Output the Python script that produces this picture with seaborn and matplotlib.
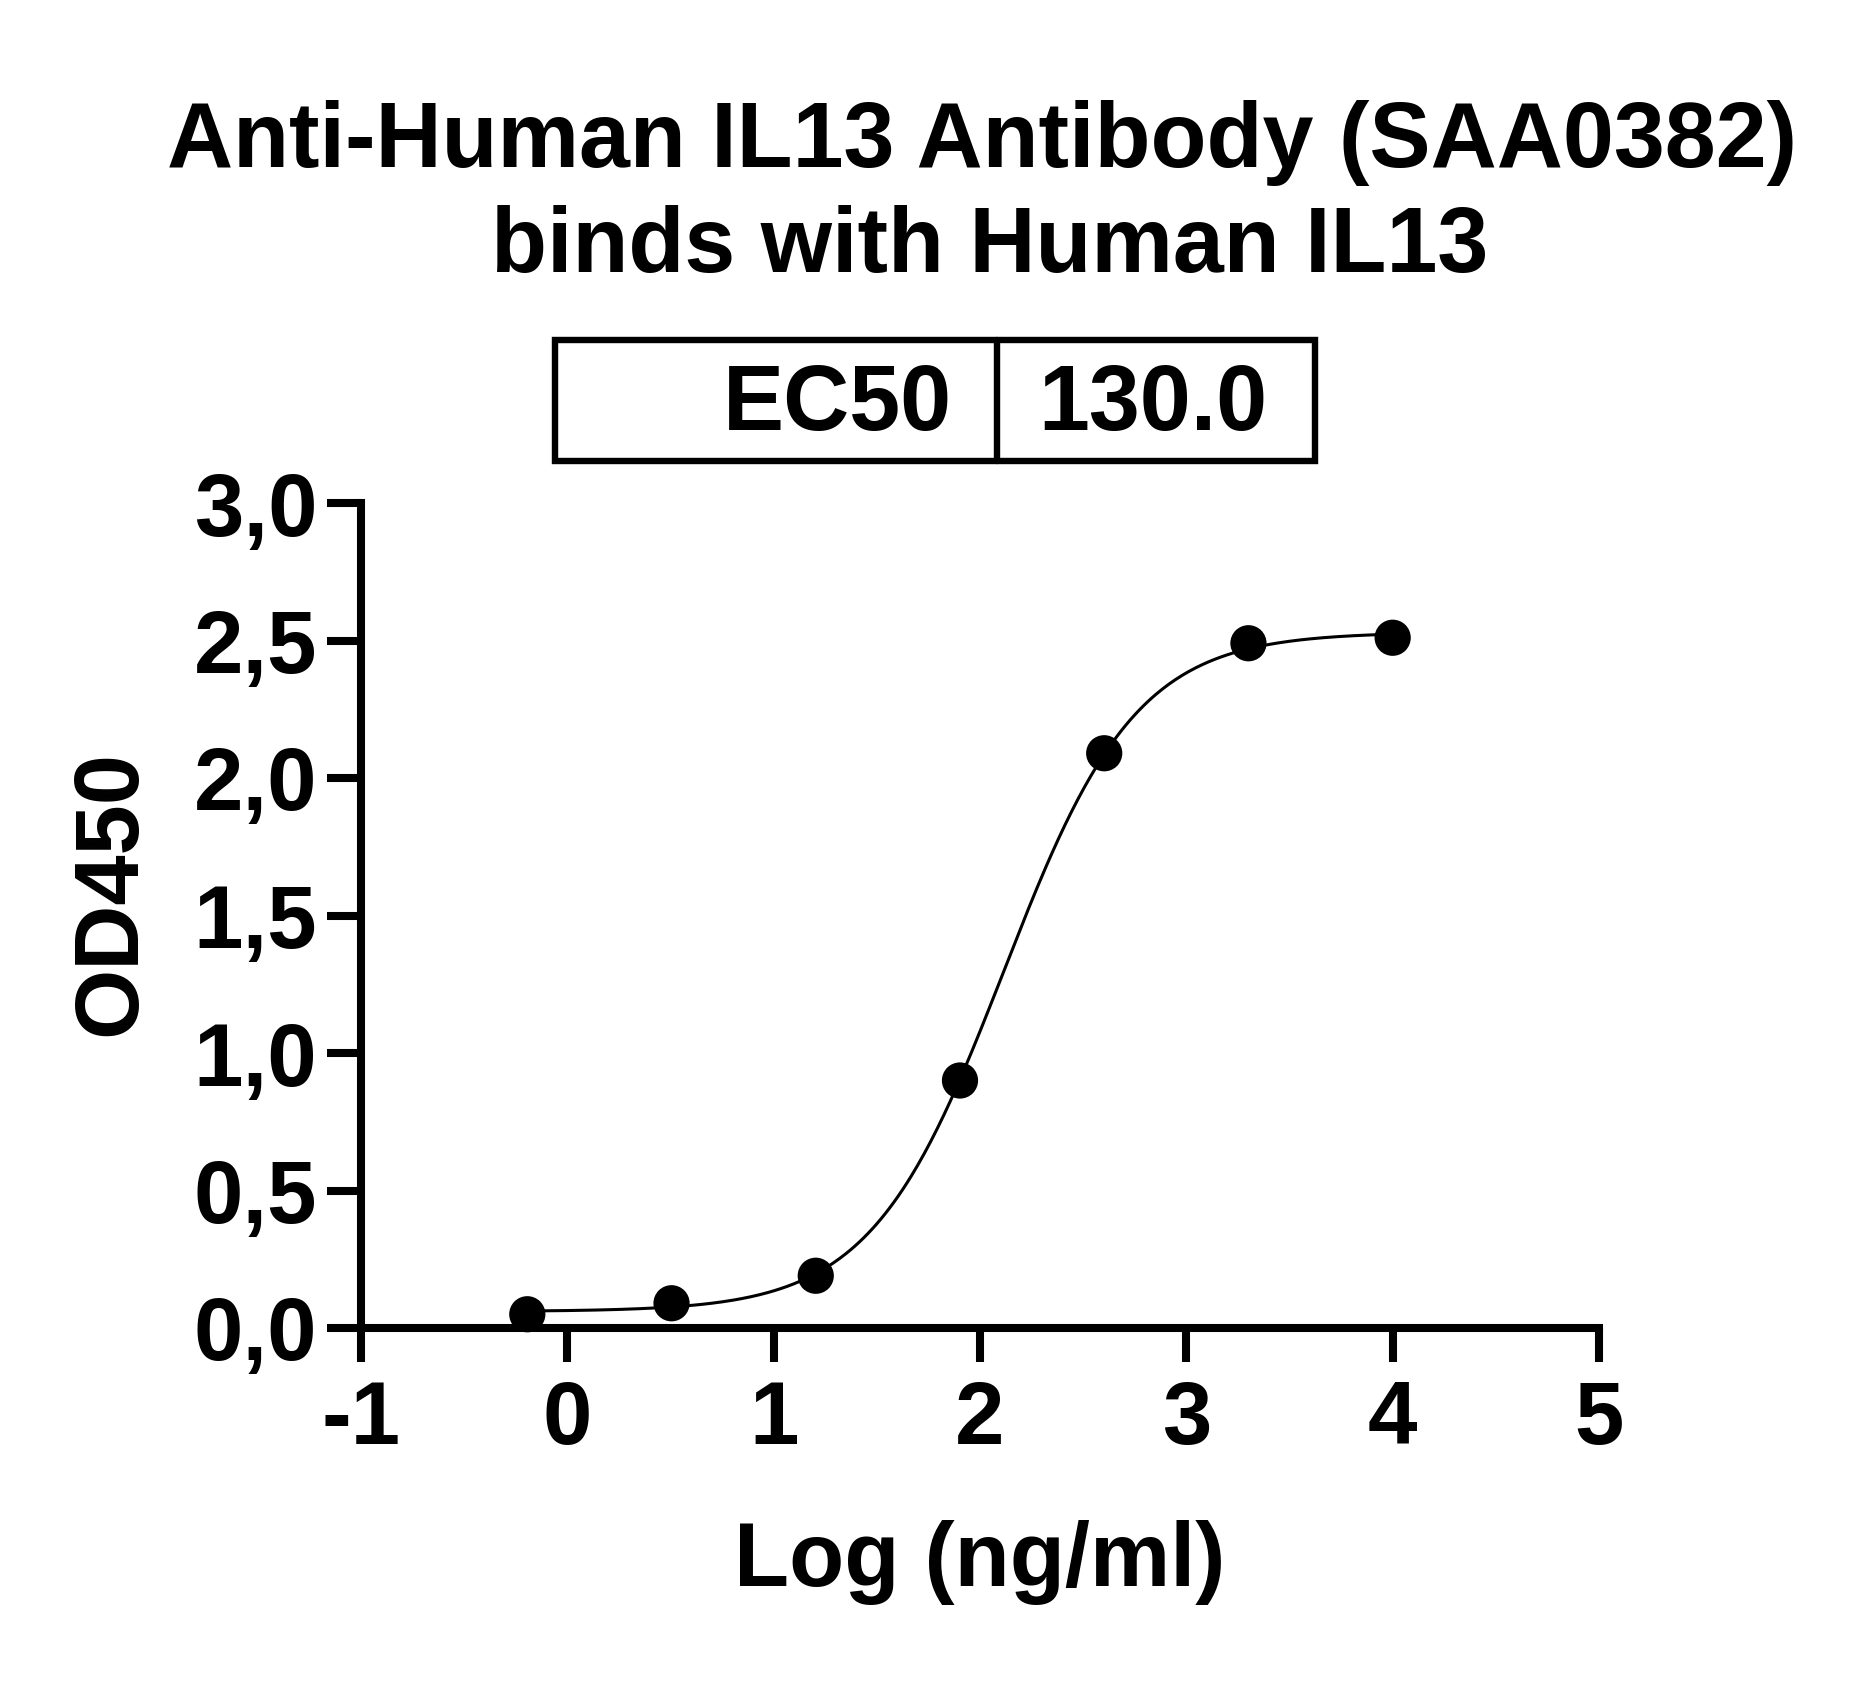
import numpy as np
import matplotlib
matplotlib.use("Agg")
import matplotlib.pyplot as plt
import seaborn as sns
from matplotlib.patches import Rectangle
from matplotlib.lines import Line2D

# measured points (log concentration, ng/ml) and OD450 readings
log_conc = [-0.194, 0.505, 1.204, 1.903, 2.602, 3.301, 4.0]
od450 = [0.05, 0.09, 0.19, 0.90, 2.09, 2.49, 2.51]

# 4PL fit parameters (EC50 printed in the box)
ec50 = 130.0
bottom = 0.06
top = 2.53
hill = 1.35

x_ticks = [-1, 0, 1, 2, 3, 4, 5]
y_ticks = [0.0, 0.5, 1.0, 1.5, 2.0, 2.5, 3.0]
y_tick_labels = ["0,0", "0,5", "1,0", "1,5", "2,0", "2,5", "3,0"]

title_lines = ["Anti-Human IL13 Antibody (SAA0382)", "binds with Human IL13"]

sns.set_style("ticks")
plt.rcParams['font.family'] = ['Liberation Sans', 'DejaVu Sans']
plt.rcParams['font.weight'] = 'bold'
plt.rcParams['text.color'] = 'black'

W, H = 1873, 1688
fig = plt.figure(figsize=(W / 100, H / 100), dpi=100)

def fx(px):
    return px / W

def fy(py):
    return 1 - py / H

ax = fig.add_axes([fx(361), fy(1328), fx(1599) - fx(361), fy(503) - fy(1328)])

# fitted curve
curve_x = np.linspace(log_conc[0], log_conc[-1], 400)
curve_y = bottom + (top - bottom) / (1 + 10 ** ((np.log10(ec50) - curve_x) * hill))
sns.lineplot(x=curve_x, y=curve_y, color="black", linewidth=2.2, ax=ax, clip_on=False)

sns.scatterplot(x=log_conc, y=od450, color="black", s=680, edgecolor="none",
                ax=ax, clip_on=False, zorder=5)

ax.set_xlim(-1, 5)
ax.set_ylim(0, 3)
ax.set_xticks(x_ticks)
ax.set_xticklabels([str(t) for t in x_ticks])
ax.set_yticks(y_ticks)
ax.set_yticklabels(y_tick_labels)

sns.despine(ax=ax)
for side in ["left", "bottom"]:
    ax.spines[side].set_linewidth(5.8)
    ax.spines[side].set_color("black")

ax.tick_params(axis="both", direction="out", length=24.5, width=5.8, color="black",
               labelsize=64, labelcolor="black")
ax.tick_params(axis="x", pad=12)
ax.tick_params(axis="y", pad=7)
for lab in ax.get_xticklabels() + ax.get_yticklabels():
    lab.set_fontweight("bold")

ax.set_xlabel("")
ax.set_ylabel("")

# axis labels
fig.text(fx(980), fy(1586), "Log (ng/ml)", ha="center", va="baseline",
         fontsize=65, fontweight="bold", color="black")
fig.text(fx(112), fy(893), "OD450", ha="center", va="center", rotation=90,
         fontsize=65, fontweight="bold", color="black")

# title
fig.text(fx(982), fy(167), title_lines[0], ha="center", va="baseline",
         fontsize=66, fontweight="bold", color="black")
fig.text(fx(990), fy(272), title_lines[1], ha="center", va="baseline",
         fontsize=66, fontweight="bold", color="black")

# EC50 box
fig.patches.append(Rectangle((fx(555), fy(461)), fx(1315) - fx(555), fy(340) - fy(461),
                             transform=fig.transFigure, fill=False, edgecolor="black",
                             linewidth=4.6))
fig.lines.append(Line2D([fx(997), fx(997)], [fy(461), fy(340)], transform=fig.transFigure,
                        color="black", linewidth=4.6))
fig.text(fx(952), fy(430), "EC50", ha="right", va="baseline", fontsize=66,
         fontweight="bold", color="black")
fig.text(fx(1153), fy(430), f"{ec50:.1f}", ha="center", va="baseline", fontsize=66,
         fontweight="bold", color="black")

fig.savefig("out.png", dpi=100)
